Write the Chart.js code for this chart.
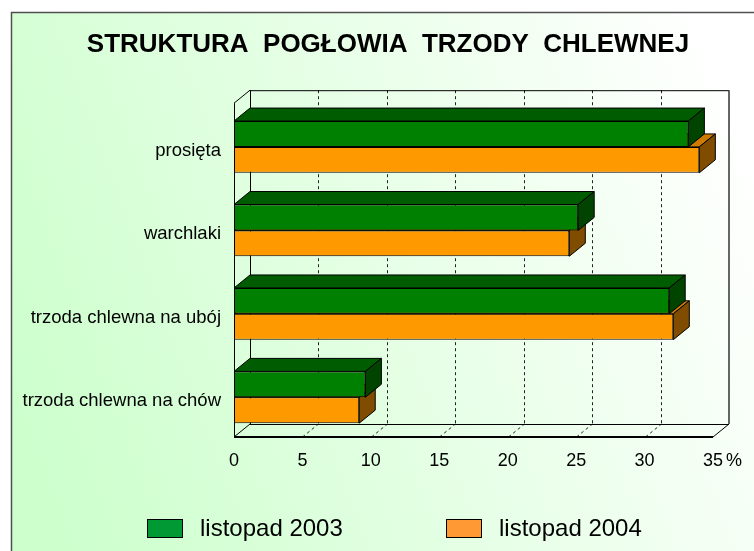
<!DOCTYPE html>
<html>
<head>
<meta charset="utf-8">
<script src="https://cdn.jsdelivr.net/npm/chart.js@4"></script>
<style>
  html, body { margin: 0; padding: 0; background: #fff; }
</style>
</head>
<body>
<canvas id="myChart" width="754" height="551"></canvas>
<script>
var categories = ['prosięta', 'warchlaki', 'trzoda chlewna na ubój', 'trzoda chlewna na chów'];
var seriesNames = ['listopad 2003', 'listopad 2004'];
var values2003 = [33.2, 25.15, 31.8, 9.6];
var values2004 = [34.0, 24.5, 32.1, 9.15];
var xTicks = [0, 5, 10, 15, 20, 25, 30, 35];

var FONT = "'Liberation Sans', Arial, sans-serif";
var DX = 16, DY = -13;   // depth of the 3d box

var frontColors = ['#008000', '#ff9900'];
var topColors = ['#005c00', '#cc7a00'];
var sideColors = ['#004400', '#804d00'];
var legendColors = ['#009933', '#ff9933'];

function line(ctx, x1, y1, x2, y2) {
	ctx.beginPath();
	ctx.moveTo(x1, y1);
	ctx.lineTo(x2, y2);
	ctx.stroke();
}

function poly(ctx, pts, fill) {
	ctx.beginPath();
	ctx.moveTo(pts[0][0], pts[0][1]);
	for (var i = 1; i < pts.length; i++) ctx.lineTo(pts[i][0], pts[i][1]);
	ctx.closePath();
	ctx.fillStyle = fill;
	ctx.fill();
	ctx.stroke();
}

// page background and frame
const backgroundPlugin = {
	id: 'background',
	beforeDraw(chart) {
		var ctx = chart.ctx;
		ctx.save();
		ctx.fillStyle = '#ffffff';
		ctx.fillRect(0, 0, chart.width, chart.height);
		var g = ctx.createLinearGradient(11, 420, 754, 140);
		g.addColorStop(0, '#ccffcc');
		g.addColorStop(0.55, '#e8ffe8');
		g.addColorStop(1, '#ffffff');
		ctx.fillStyle = g;
		ctx.fillRect(11, 12, chart.width - 11, chart.height - 12);
		ctx.strokeStyle = '#505050';
		ctx.lineWidth = 1.5;
		line(ctx, 11.5, 12, 11.5, chart.height);
		line(ctx, 11, 12.5, chart.width, 12.5);
		ctx.restore();
	}
};

// walls, floor and dashed grid of the 3d box
const wallsPlugin = {
	id: 'walls',
	beforeDatasetsDraw(chart) {
		var ctx = chart.ctx, ca = chart.chartArea, xs = chart.scales.x;
		var L = ca.left, R = ca.right, T = ca.top - 2, B = ca.bottom - 2;
		ctx.save();
		ctx.strokeStyle = '#000';
		ctx.lineWidth = 1;
		// dashed grid on back wall and floor
		ctx.setLineDash([3, 3]);
		ctx.strokeStyle = '#222';
		for (var i = 1; i < xTicks.length - 1; i++) {
			var x = Math.round(xs.getPixelForValue(xTicks[i])) + 0.5;
			line(ctx, x + DX, T + DY, x + DX, B + DY);
			line(ctx, x, B, x + DX, B + DY);
		}
		ctx.setLineDash([]);
		ctx.strokeStyle = '#000';
		// back wall
		line(ctx, L + DX + 0.5, T + DY, L + DX + 0.5, B + DY);
		line(ctx, L + DX, T + DY + 0.5, R + DX, T + DY + 0.5);
		ctx.strokeStyle = '#333';
		ctx.lineWidth = 1.5;
		line(ctx, R + DX, T + DY, R + DX, B + DY);
		ctx.lineWidth = 1;
		ctx.strokeStyle = '#000';
		line(ctx, L + DX, B + DY + 0.5, R + DX, B + DY + 0.5);
		// left wall
		line(ctx, L + 0.5, T, L + 0.5, B);
		line(ctx, L, T, L + DX, T + DY);
		line(ctx, L, B, L + DX, B + DY);
		// floor front edge
		ctx.lineWidth = 2;
		line(ctx, L, B, R, B);
		ctx.lineWidth = 1;
		line(ctx, R, B, R + DX, B + DY);
		ctx.restore();
	},
	afterDatasetDraw(chart, args) {
		var ctx = chart.ctx;
		var idx = args.index;
		var meta = chart.getDatasetMeta(idx);
		ctx.save();
		ctx.strokeStyle = '#000';
		ctx.lineWidth = 1;
		ctx.lineJoin = 'round';
		meta.data.forEach(function (el) {
			var p = el.getProps(['x', 'y', 'base', 'height'], true);
			var top = p.y - p.height / 2, bot = p.y + p.height / 2;
			var x0 = p.base, x1 = p.x;
			poly(ctx, [[x0, top], [x1, top], [x1 + DX, top + DY], [x0 + DX, top + DY]], topColors[idx]);
			poly(ctx, [[x1, top], [x1 + DX, top + DY], [x1 + DX, bot + DY], [x1, bot]], sideColors[idx]);
		});
		ctx.restore();
	},
	afterDraw(chart) {
		var ctx = chart.ctx;
		var xs = chart.scales.x, ca = chart.chartArea;
		ctx.save();
		// % unit next to the last tick
		ctx.font = '18px ' + FONT;
		ctx.fillStyle = '#000';
		ctx.textBaseline = 'middle';
		ctx.textAlign = 'left';
		ctx.fillText('%', xs.getPixelForValue(35) + 13, ca.bottom + 22);
		// legend
		var lx = [147, 446], ly = 528;
		ctx.font = '24px ' + FONT;
		chart.data.datasets.forEach(function (ds, i) {
			ctx.fillStyle = legendColors[i];
			ctx.fillRect(lx[i], ly - 9, 35, 18);
			ctx.strokeStyle = '#000';
			ctx.lineWidth = 1;
			ctx.strokeRect(lx[i] + 0.5, ly - 8.5, 35, 18);
			ctx.fillStyle = '#000';
			ctx.fillText(ds.label, lx[i] + 53, ly + 1);
		});
		ctx.restore();
	}
};

const cdata = {
	labels: categories,
	datasets: [{
		label: seriesNames[0],
		data: values2003,
		backgroundColor: frontColors[0],
		borderColor: '#000',
		borderWidth: 1,
		borderSkipped: false,
		categoryPercentage: 0.62,
		barPercentage: 1.0
	}, {
		label: seriesNames[1],
		data: values2004,
		backgroundColor: frontColors[1],
		borderColor: '#000',
		borderWidth: 1,
		borderSkipped: false,
		categoryPercentage: 0.62,
		barPercentage: 1.0
	}]
};

const cconfig = {
	type: 'bar',
	data: cdata,
	options: {
		indexAxis: 'y',
		responsive: false,
		animation: false,
		layout: {
			padding: { left: 22, right: 0, top: 0, bottom: 0 }
		},
		scales: {
			x: {
				min: 0,
				max: 35,
				afterBuildTicks: function (scale) {
					scale.ticks = xTicks.map(function (v) { return { value: v }; });
				},
				afterFit: function (scale) { scale.height = 112; },
				grid: { display: false, drawTicks: false },
				border: { display: false },
				ticks: {
					padding: 11,
					color: '#000',
					font: { family: FONT, size: 18 }
				}
			},
			y: {
				afterFit: function (scale) { scale.width = 212; },
				grid: { display: false, drawTicks: false },
				border: { display: false },
				ticks: {
					padding: 13,
					labelOffset: 4,
					color: '#000',
					font: { family: FONT, size: 18.5 }
				}
			},
			yRight: {
				type: 'linear',
				position: 'right',
				afterFit: function (scale) { scale.width = 41; },
				grid: { display: false, drawTicks: false },
				border: { display: false },
				ticks: { display: false }
			}
		},
		plugins: {
			legend: { display: false },
			tooltip: { enabled: false },
			title: {
				display: true,
				text: 'STRUKTURA  POGŁOWIA  TRZODY  CHLEWNEJ',
				color: '#000',
				font: { family: FONT, size: 26, weight: 'bold' },
				padding: { top: 29, bottom: 45 }
			}
		}
	},
	plugins: [backgroundPlugin, wallsPlugin]
};

const myChart = new Chart(
	document.getElementById('myChart').getContext('2d'),
	cconfig
);
</script>
</body>
</html>
